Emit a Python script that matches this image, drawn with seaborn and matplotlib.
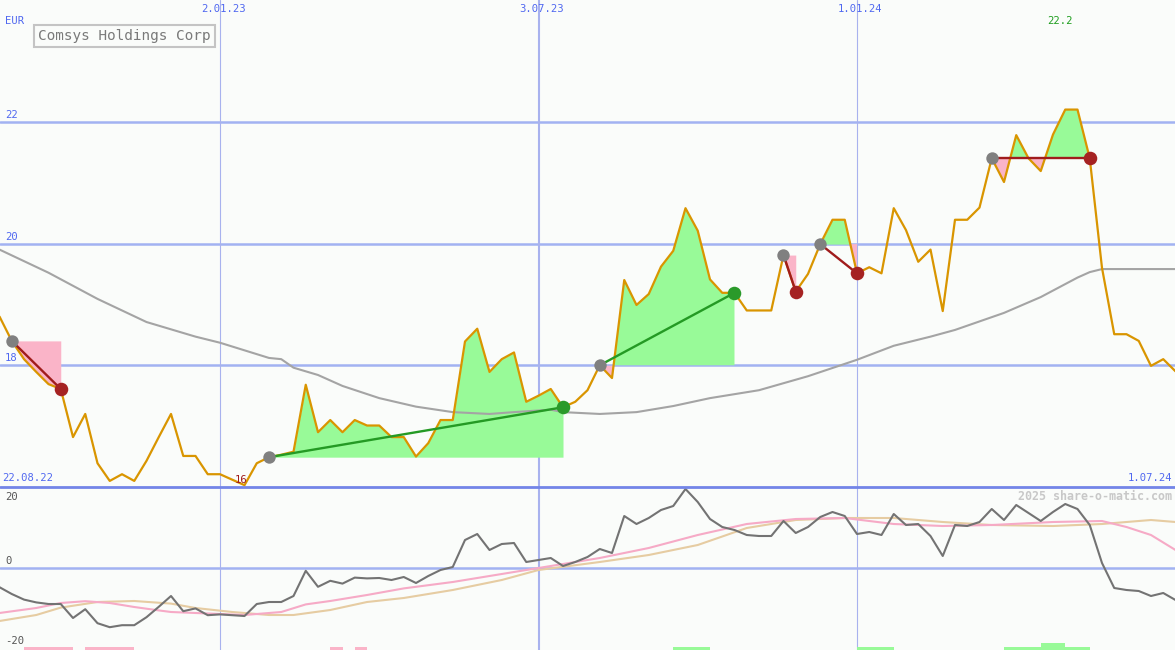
import numpy as np
import pandas as pd
import matplotlib
matplotlib.use("Agg")
import matplotlib.pyplot as plt
import seaborn as sns

# ---------------- data (weekly, week 0 = 29.08.22) ----------------
price = [18.80, 18.40, 18.10, 17.89, 17.69, 17.61, 16.82, 17.20, 16.39, 16.10,
         16.21, 16.10, 16.43, 16.82, 17.20, 16.51, 16.51, 16.21, 16.21, 16.12,
         16.03, 16.39, 16.49, 16.53, 16.58, 17.68, 16.90, 17.10, 16.90, 17.10,
         17.01, 17.01, 16.82, 16.82, 16.50, 16.72, 17.10, 17.10, 18.39, 18.60,
         17.89, 18.10, 18.21, 17.40, 17.50, 17.61, 17.31, 17.40, 17.59, 18.00,
         17.79, 19.40, 18.99, 19.17, 19.62, 19.88, 20.58, 20.21, 19.41, 19.19,
         19.19, 18.90, 18.90, 18.90, 19.81, 19.21, 19.50, 19.99, 20.39, 20.39,
         19.51, 19.61, 19.51, 20.58, 20.22, 19.70, 19.90, 18.89, 20.39, 20.39,
         20.59, 21.40, 21.01, 21.78, 21.40, 21.19, 21.79, 22.20, 22.20, 21.40,
         19.60, 18.51, 18.51, 18.40, 17.99, 18.10, 17.90]
weeks = list(range(len(price)))

ma_weeks = [0, 4, 8, 12, 16, 18, 22, 23, 24, 26, 28, 31, 34, 37, 40, 42, 45, 46,
            49, 52, 55, 58, 62, 66, 70, 73, 76, 78, 82, 85, 88, 89, 90, 92, 96]
ma_values = [19.90, 19.52, 19.09, 18.71, 18.47, 18.37, 18.12, 18.10, 17.96, 17.84,
             17.66, 17.46, 17.32, 17.23, 17.20, 17.23, 17.27, 17.23, 17.20, 17.23,
             17.33, 17.46, 17.59, 17.82, 18.09, 18.32, 18.47, 18.58, 18.86, 19.12,
             19.44, 19.53, 19.58, 19.58, 19.58]

momentum = [-4.8, -6.5, -7.9, -8.6, -9.0, -9.0, -12.5, -10.3, -13.8, -14.8,
            -14.3, -14.3, -12.3, -9.7, -7.0, -10.8, -10.1, -11.8, -11.6, -11.8,
            -12.0, -9.0, -8.5, -8.5, -7.0, -0.7, -4.7, -3.2, -3.9, -2.4,
            -2.6, -2.5, -3.0, -2.25, -3.75, -2.0, -0.5, 0.25, 7.0, 8.5,
            4.5, 6.0, 6.25, 1.5, 2.0, 2.5, 0.5, 1.5, 2.75, 4.75,
            3.75, 13.0, 11.0, 12.5, 14.5, 15.5, 19.75, 16.5, 12.25, 10.25,
            9.5, 8.25, 8.0, 8.0, 11.75, 8.75, 10.25, 12.75, 14.0, 13.0,
            8.5, 9.0, 8.25, 13.5, 10.75, 11.0, 8.0, 3.0, 10.75, 10.5,
            11.5, 14.75, 12.0, 15.75, 13.75, 11.75, 14.0, 16.0, 14.75, 10.75,
            1.25, -5.0, -5.5, -5.75, -7.0, -6.25, -8.0]

pink_weeks = [0, 3, 5, 7, 9, 11, 13, 14, 16, 18, 20, 21, 23, 25, 27, 30, 33, 37,
              41, 44, 49, 53, 57, 61, 65, 69, 73, 77, 81, 86, 90, 92, 94, 96]
pink_values = [-11.25, -10.0, -8.75, -8.3, -8.75, -9.75, -10.6, -11.0, -11.25, -11.5,
               -11.75, -11.5, -11.0, -9.1, -8.25, -6.75, -5.1, -3.5, -1.5, 0.0,
               2.5, 5.0, 8.25, 11.0, 12.25, 12.5, 11.0, 10.5, 10.75, 11.5,
               11.75, 10.25, 8.25, 4.5]

tan_weeks = [0, 3, 5, 8, 11, 14, 16, 19, 22, 24, 27, 30, 33, 37, 41, 44, 49, 53,
             57, 61, 65, 69, 73, 77, 81, 86, 90, 94, 96]
tan_values = [-13.25, -11.75, -9.9, -8.5, -8.25, -8.9, -10.0, -11.0, -11.75, -11.75,
              -10.5, -8.5, -7.5, -5.5, -3.0, -0.5, 1.5, 3.25, 5.75, 10.0,
              12.0, 12.5, 12.5, 11.5, 10.75, 10.5, 11.0, 12.0, 11.5]

sig_start = [1, 22, 49, 64, 67, 81]
sig_end = [5, 46, 60, 65, 70, 89]
sig_kind = ["sell", "buy", "buy", "sell", "sell", "sell"]

pink_bar_weeks = [2, 3, 4, 5, 7, 8, 9, 10, 27, 29]
pink_bar_levels = [1, 1, 1, 1, 1, 1, 1, 1, 1, 1]
green_bar_weeks = [55, 56, 57, 70, 71, 72, 82, 83, 84, 85, 86, 87, 88]
green_bar_levels = [1, 1, 1, 1, 1, 1, 1, 1, 1, 2, 2, 1, 1]

date_tick_weeks = [18, 44, 70]
date_tick_labels = ["2.01.23", "3.07.23", "1.01.24"]
price_ticks = [18, 20, 22]
price_tick_labels = ["18", "20", "22"]
osc_ticks = [20, 0, -20]
osc_tick_labels = ["20", "0", "-20"]
first_date_label = "22.08.22"
last_date_label = "1.07.24"
title = "Comsys Holdings Corp"
currency = "EUR"
credit = "2025 share-o-matic.com"

# ---------------- style ----------------
BG = "#fafcfa"
BLUE_TXT = "#5068f0"
GRID = "#a2b2f2"
ORANGE = "#d99500"
MA_GRAY = "#a4a4a4"
GREEN_FILL = "#98fa98"
PINK_FILL = "#fab4c8"
GREEN_LINE = "#249a24"
DARKRED = "#a01c1c"
MONO = "DejaVu Sans Mono"

sns.set_theme(style="white")
plt.rcParams["font.family"] = [MONO, "DejaVu Sans"]

W, H = 1175, 650
fig = plt.figure(figsize=(W / 100, H / 100), dpi=100, facecolor=BG)
ax2 = fig.add_axes([0, 0, 1, 163 / H])
ax = fig.add_axes([0, 163 / H, 1, 487 / H])
ax.set_zorder(3)
ax2.set_zorder(1)
for a in (ax, ax2):
    a.set_facecolor(BG)
    for s in a.spines.values():
        s.set_visible(False)

# grid lines
for t in price_ticks:
    ax.axhline(t, color=GRID, lw=1.8, zorder=1)
ax.axhline(16, color="#7385e8", lw=2.0, zorder=6, clip_on=False)
ax2.axhline(0, color=GRID, lw=1.8, zorder=1)
vline_lw = {18: 0.8, 44: 1.5, 70: 0.8}
for w in date_tick_weeks:
    for a in (ax, ax2):
        a.axvline(w, color="#a8b2ee", lw=vline_lw[w], zorder=1)

# data frames
df = pd.DataFrame({"week": weeks, "price": price, "momentum": momentum})
ma_df = pd.DataFrame({"week": ma_weeks, "ma": ma_values})
pk_df = pd.DataFrame({"week": pink_weeks, "v": pink_values})
tn_df = pd.DataFrame({"week": tan_weeks, "v": tan_values})
parr = np.array(price)

# signal fills
for s, e, k in zip(sig_start, sig_end, sig_kind):
    xs = np.arange(s, e + 1)
    ys = parr[s:e + 1]
    entry = parr[s]
    ax.fill_between(xs, ys, entry, where=ys >= entry, interpolate=True,
                    color=GREEN_FILL, lw=0, zorder=2)
    ax.fill_between(xs, ys, entry, where=ys <= entry, interpolate=True,
                    color=PINK_FILL, lw=0, zorder=2)

sns.lineplot(data=ma_df, x="week", y="ma", ax=ax, color=MA_GRAY, lw=1.5, zorder=2.5)
sns.lineplot(data=df, x="week", y="price", ax=ax, color=ORANGE, lw=1.6, zorder=3)

for s, e, k in zip(sig_start, sig_end, sig_kind):
    c = GREEN_LINE if k == "buy" else DARKRED
    seg = pd.DataFrame({"week": [s, e], "p": [parr[s], parr[e]]})
    sns.lineplot(data=seg, x="week", y="p", ax=ax, color=c, lw=1.7, zorder=4)
    sns.scatterplot(x=[s], y=[parr[s]], ax=ax, s=80, color="#808080", linewidth=0, zorder=5)
    sns.scatterplot(x=[e], y=[parr[e]], ax=ax, s=95,
                    color=("#2a9a2a" if k == "buy" else "#a52222"), linewidth=0, zorder=5)

# oscillator panel
sns.lineplot(data=tn_df, x="week", y="v", ax=ax2, color="#e6cca2", lw=1.5, zorder=2)
sns.lineplot(data=pk_df, x="week", y="v", ax=ax2, color="#f6aac6", lw=1.5, zorder=2.2)
sns.lineplot(data=df, x="week", y="momentum", ax=ax2, color="#737373", lw=1.5, zorder=3)
ax2.bar(pink_bar_weeks, np.array(pink_bar_levels) * 0.85, width=1, align="edge",
        bottom=-20.5, color=PINK_FILL, lw=0, zorder=4)
ax2.bar(green_bar_weeks, np.array(green_bar_levels) * 0.85, width=1, align="edge",
        bottom=-20.5, color=GREEN_FILL, lw=0, zorder=4)

for a in (ax, ax2):
    a.set_xlabel("")
    a.set_ylabel("")
    a.set_xlim(0.04, 95.96)
    a.set_xticks([])
    a.set_yticks([])
ax.set_ylim(16, 24.0)
ax2.set_ylim(-20.5, 20.25)

FS = 7.6
# price tick labels
for t, lbl in zip(price_ticks, price_tick_labels):
    ax.annotate(lbl, xy=(0, t), xycoords=("axes fraction", "data"), xytext=(5, 2),
                textcoords="offset pixels", ha="left", va="bottom", fontsize=FS, color=BLUE_TXT)
# oscillator tick labels
for t, lbl in zip(osc_ticks, osc_tick_labels):
    if t == max(osc_ticks):
        ax2.annotate(lbl, xy=(0, 1), xycoords="axes fraction", xytext=(5, -5),
                     textcoords="offset pixels", ha="left", va="top", fontsize=FS, color="#555555")
    else:
        ax2.annotate(lbl, xy=(0, t), xycoords=("axes fraction", "data"), xytext=(5, 2),
                     textcoords="offset pixels", ha="left", va="bottom", fontsize=FS, color="#555555")
# date labels on top
for w, lbl in zip(date_tick_weeks, date_tick_labels):
    ax.annotate(lbl, xy=(w, 1), xycoords=("data", "axes fraction"), xytext=(3, -4),
                textcoords="offset pixels", ha="center", va="top", fontsize=FS, color=BLUE_TXT)
ax.annotate(currency, xy=(0, 1), xycoords="axes fraction", xytext=(5, -16),
            textcoords="offset pixels", ha="left", va="top", fontsize=FS, color=BLUE_TXT)
ax.annotate(first_date_label, xy=(0, 0), xycoords="axes fraction", xytext=(2, 4),
            textcoords="offset pixels", ha="left", va="bottom", fontsize=FS, color=BLUE_TXT)
ax.annotate(last_date_label, xy=(1, 0), xycoords="axes fraction", xytext=(-3, 4),
            textcoords="offset pixels", ha="right", va="bottom", fontsize=FS, color=BLUE_TXT)
# min / max labels
imin = int(np.argmin(parr))
imax = int(np.argmax(parr))
ax.annotate(f"{parr[imin]:.0f}", xy=(imin, parr[imin]), xytext=(-3, 5),
            textcoords="offset pixels", ha="center", va="center", fontsize=FS, color="#a01c1c")
ax.annotate(f"{parr[imax]:.1f}", xy=(imax, 1), xycoords=("data", "axes fraction"), xytext=(-5, -16),
            textcoords="offset pixels", ha="center", va="top", fontsize=FS, color="#1e9e1e")
# title box
ax.annotate(title, xy=(0, 1), xycoords="axes fraction", xytext=(38, -36),
            textcoords="offset pixels", ha="left", va="center", fontsize=10.4, color="#7a7a7a",
            bbox=dict(boxstyle="square,pad=0.3", fc=BG, ec="#c4c4c4", lw=1.5))
# credit
ax2.annotate(credit, xy=(1, 1), xycoords="axes fraction", xytext=(-3, -9),
             textcoords="offset pixels", ha="right", va="center", fontsize=8.4,
             fontweight="bold", color="#c8c8c8")

fig.savefig("out.png", dpi=100, facecolor=BG)
